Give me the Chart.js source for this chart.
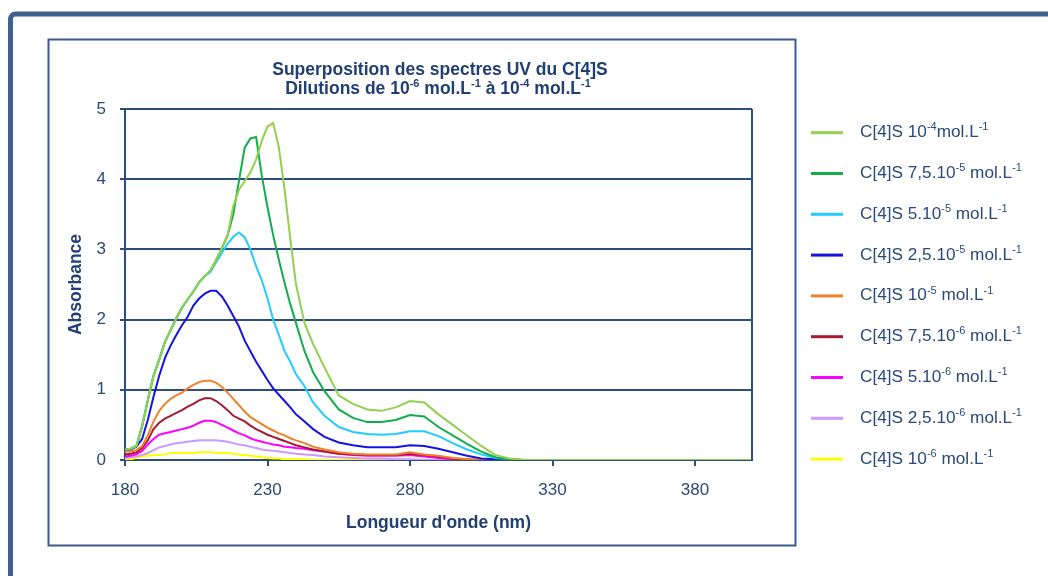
<!DOCTYPE html>
<html>
<head>
<meta charset="utf-8">
<script src="https://cdn.jsdelivr.net/npm/chart.js@4.4.1/dist/chart.umd.min.js"></script>
<style>
html, body { margin: 0; padding: 0; background: #fff; }
#wrap { width: 1048px; height: 576px; }
</style>
</head>
<body>
<div id="wrap"><canvas id="uvChart" width="1048" height="576"></canvas></div>
<script>
/* ===== Data ===== */
const wavelengths = [180,182,184,186,188,190,192,194,196,198,200,202,204,206,208,210,212,214,216,218,220,222,224,226,228,230,232,234,236,238,240,243,246,250,255,260,265,270,275,280,285,290,295,300,305,310,315,320,400];

const c1e4   = [0.15,0.16,0.20,0.48,0.85,1.20,1.43,1.68,1.85,2.02,2.17,2.29,2.40,2.53,2.62,2.70,2.85,3.02,3.20,3.62,3.85,3.97,4.10,4.28,4.55,4.75,4.80,4.45,3.85,3.15,2.50,1.95,1.65,1.32,0.92,0.80,0.72,0.70,0.75,0.84,0.82,0.65,0.50,0.35,0.20,0.07,0.02,0,0];
const c75e5  = [0.15,0.16,0.20,0.48,0.85,1.20,1.43,1.68,1.85,2.02,2.17,2.29,2.40,2.53,2.62,2.70,2.85,3.02,3.20,3.50,3.98,4.45,4.58,4.60,4.05,3.60,3.20,2.85,2.52,2.22,1.95,1.55,1.25,0.98,0.72,0.60,0.54,0.54,0.57,0.64,0.62,0.47,0.35,0.23,0.12,0.04,0.01,0,0];
const c5e5   = [0.15,0.16,0.20,0.48,0.85,1.20,1.43,1.68,1.85,2.02,2.17,2.29,2.40,2.53,2.62,2.68,2.82,2.95,3.08,3.18,3.24,3.17,3.00,2.76,2.56,2.30,2.00,1.78,1.55,1.40,1.22,1.05,0.82,0.63,0.47,0.40,0.37,0.36,0.37,0.41,0.41,0.34,0.24,0.15,0.08,0.03,0.01,0,0];
const c25e5  = [0.15,0.15,0.19,0.30,0.57,0.90,1.20,1.45,1.63,1.78,1.92,2.04,2.20,2.30,2.37,2.41,2.41,2.33,2.20,2.05,1.90,1.70,1.55,1.40,1.27,1.14,1.02,0.93,0.84,0.75,0.65,0.55,0.44,0.33,0.25,0.21,0.18,0.18,0.18,0.21,0.20,0.16,0.11,0.06,0.02,0.01,0,0,0];
const c1e5   = [0.12,0.12,0.14,0.20,0.35,0.55,0.70,0.80,0.87,0.92,0.96,1.02,1.07,1.11,1.13,1.13,1.10,1.04,0.96,0.87,0.78,0.69,0.61,0.56,0.51,0.46,0.42,0.38,0.35,0.31,0.28,0.24,0.19,0.15,0.11,0.09,0.08,0.08,0.08,0.11,0.08,0.06,0.03,0.01,0,0,0,0,0];
const c75e6  = [0.08,0.09,0.11,0.17,0.28,0.44,0.53,0.59,0.63,0.67,0.71,0.76,0.80,0.85,0.88,0.88,0.84,0.78,0.71,0.63,0.59,0.55,0.49,0.44,0.40,0.36,0.33,0.30,0.27,0.24,0.21,0.18,0.15,0.12,0.09,0.08,0.07,0.07,0.07,0.09,0.07,0.05,0.02,0.01,0,0,0,0,0];
const c5e6   = [0.05,0.06,0.08,0.13,0.22,0.30,0.36,0.38,0.40,0.42,0.44,0.46,0.49,0.53,0.56,0.56,0.54,0.50,0.46,0.42,0.38,0.35,0.31,0.28,0.26,0.24,0.22,0.21,0.19,0.18,0.17,0.16,0.14,0.12,0.09,0.07,0.06,0.06,0.06,0.07,0.05,0.03,0.01,0,0,0,0,0,0];
const c25e6  = [0.03,0.04,0.05,0.07,0.10,0.14,0.18,0.20,0.22,0.24,0.25,0.26,0.27,0.28,0.28,0.28,0.28,0.27,0.26,0.24,0.22,0.21,0.19,0.17,0.15,0.14,0.13,0.12,0.11,0.10,0.09,0.08,0.07,0.05,0.04,0.03,0.02,0.02,0.01,0.01,0,0,0,0,0,0,0,0,0];
const c1e6   = [0.01,0.01,0.03,0.05,0.06,0.07,0.07,0.08,0.10,0.10,0.10,0.10,0.10,0.11,0.11,0.11,0.10,0.10,0.10,0.09,0.08,0.07,0.06,0.05,0.04,0.03,0.02,0.02,0.01,0.01,0.01,0.01,0,0,0,0,0,0,0,0,0,0,0,0,0,0,0,0,0];

const seriesValues = [c1e4, c75e5, c5e5, c25e5, c1e5, c75e6, c5e6, c25e6, c1e6];
const seriesColors = ['#92D050','#12AD4B','#22CCFF','#1414E0','#F0802A','#A51A30','#FF00FF','#CC99FF','#FFFF00'];
const legendLabels = [
    'C[4]S 10^{-4}mol.L^{-1}',
    'C[4]S 7,5.10^{-5} mol.L^{-1}',
    'C[4]S 5.10^{-5} mol.L^{-1}',
    'C[4]S 2,5.10^{-5} mol.L^{-1}',
    'C[4]S 10^{-5} mol.L^{-1}',
    'C[4]S 7,5.10^{-6} mol.L^{-1}',
    'C[4]S 5.10^{-6} mol.L^{-1}',
    'C[4]S 2,5.10^{-6} mol.L^{-1}',
    'C[4]S 10^{-6} mol.L^{-1}'
];
const xTicks = [180,230,280,330,380];
const titleLines = ['Superposition des spectres UV du C[4]S', 'Dilutions de 10^{-6} mol.L^{-1} à 10^{-4} mol.L^{-1}'];

/* ===== Styles ===== */
const FONT = 'Arial, "Liberation Sans", sans-serif';
const textColor = '#2B4A7C';
const titleColor = '#213F72';
const axisColor = '#2F4E80';
const frameColor = '#3F6192';

// draws text with ^{..} parts as superscripts
function drawRich(ctx, str, x, y, size, bold, align){
    const parts = str.split(/(\^\{[^}]*\})/).filter(s => s);
    const weight = bold ? 'bold ' : '';
    const supSize = Math.round(size*0.62);
    let total = 0;
    const segs = parts.map(p => {
        const sup = p.startsWith('^{');
        const t = sup ? p.slice(2,-1) : p;
        ctx.font = weight + (sup ? supSize : size) + 'px ' + FONT;
        const w = ctx.measureText(t).width;
        total += w;
        return {t, sup, w};
    });
    let cx = align === 'center' ? x - total/2 : x;
    ctx.textAlign = 'left';
    ctx.textBaseline = 'alphabetic';
    segs.forEach(s => {
        ctx.font = weight + (s.sup ? supSize : size) + 'px ' + FONT;
        ctx.fillText(s.t, cx, s.sup ? y - size*0.4 : y);
        cx += s.w;
    });
}

const framePlugin = {
    id: 'frame',
    beforeDraw(chart){
        const ctx = chart.ctx;
        ctx.save();
        ctx.fillStyle = '#fff';
        ctx.fillRect(0, 0, chart.width, chart.height);
        // outer frame
        ctx.strokeStyle = frameColor;
        ctx.lineWidth = 5;
        ctx.beginPath();
        ctx.moveTo(10.5, 576);
        ctx.lineTo(10.5, 19);
        ctx.arcTo(10.5, 14, 15.5, 14, 5);
        ctx.lineTo(1048, 14);
        ctx.stroke();
        // chart box
        ctx.strokeStyle = '#3A5B8E';
        ctx.lineWidth = 2;
        ctx.strokeRect(48.5, 39.5, 747, 506);
        ctx.restore();
    },
    afterDraw(chart){
        const ctx = chart.ctx;
        const area = chart.chartArea;
        ctx.save();
        ctx.strokeStyle = axisColor;
        ctx.lineWidth = 2;
        ctx.beginPath();
        ctx.moveTo(area.right, area.top);
        ctx.lineTo(area.right, area.bottom);
        ctx.stroke();
        // title
        ctx.fillStyle = titleColor;
        drawRich(ctx, titleLines[0], 440, 75, 17.5, true, 'center');
        drawRich(ctx, titleLines[1], 438, 94, 17.5, true, 'center');
        // legend
        legendLabels.forEach((lab, i) => {
            const y = 132.7 + i*40.8;
            ctx.strokeStyle = seriesColors[i];
            ctx.lineWidth = 3;
            ctx.beginPath();
            ctx.moveTo(811, y);
            ctx.lineTo(843, y);
            ctx.stroke();
            ctx.fillStyle = textColor;
            drawRich(ctx, lab, 860, y + 4.5, 17.2, false, 'left');
        });
        ctx.restore();
    }
};

/* ===== Chart ===== */
const uvChart = new Chart(document.getElementById('uvChart'), {
    type: 'line',
    data: {
        datasets: seriesValues.map((vals, i) => ({
            label: legendLabels[i],
            data: wavelengths.map((w, j) => ({x: w, y: vals[j]})),
            borderColor: seriesColors[i],
            backgroundColor: seriesColors[i],
            borderWidth: 2,
            pointRadius: 0,
            tension: 0,
            fill: false
        }))
    },
    options: {
        responsive: false,
        animation: false,
        layout: { padding: { left: 48, right: 296, top: 109, bottom: 31 } },
        plugins: { legend: { display: false }, title: { display: false }, tooltip: { enabled: false } },
        scales: {
            x: {
                type: 'linear', min: 180, max: 400,
                afterBuildTicks: s => { s.ticks = xTicks.map(v => ({value: v})); },
                afterFit: s => { s.height = 85; },
                grid: { drawOnChartArea: false, drawTicks: true, tickLength: 6, color: axisColor, lineWidth: 2 },
                border: { color: axisColor, width: 2 },
                ticks: { color: textColor, font: { size: 17, family: FONT }, padding: 14, maxRotation: 0 },
                title: { display: true, text: "Longueur d'onde (nm)", color: titleColor, font: { size: 17.5, weight: 'bold', family: FONT }, padding: { top: 0, bottom: 11 } }
            },
            y: {
                min: 0, max: 5,
                afterFit: s => { s.width = 77; },
                grid: { color: axisColor, lineWidth: 2, tickLength: 5 },
                border: { color: axisColor, width: 2 },
                ticks: { stepSize: 1, color: textColor, font: { size: 17, family: FONT }, padding: 14 },
                title: { display: true, text: 'Absorbance', color: titleColor, font: { size: 17.5, weight: 'bold', family: FONT }, padding: { top: 18, bottom: 0 } }
            }
        }
    },
    plugins: [framePlugin]
});
</script>
</body>
</html>
